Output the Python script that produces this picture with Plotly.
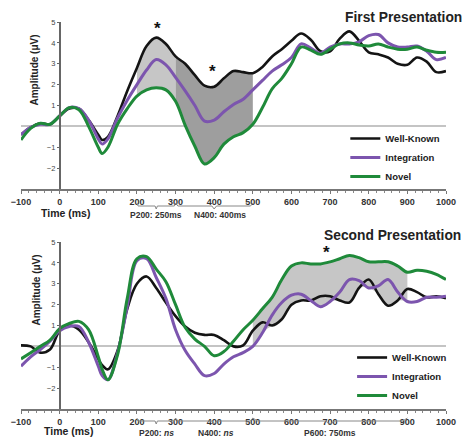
import numpy as np
import plotly.graph_objects as go

# ---------------- data ----------------
t = [-100, -75, -50, -25, 0, 25, 50, 75, 100, 110, 125, 150, 175, 200, 225, 250, 275, 300,
     325, 350, 375, 400, 425, 450, 475, 500, 525, 550, 575, 600, 625, 650, 675, 700, 725,
     750, 775, 800, 825, 850, 875, 900, 925, 950, 975, 1000]

# First presentation
wk1 = [-0.4, -0.05, 0.15, 0.1, 0.5, 0.85, 0.85, 0.3, -0.4, -0.65, -0.5, 0.5, 1.7, 2.8, 3.85, 4.25, 3.95, 3.35,
       3.0, 2.45, 1.95, 1.9, 2.3, 2.65, 2.6, 2.55, 2.85, 3.35, 3.7, 4.1, 4.45, 4.15, 3.6, 3.6, 4.2,
       4.55, 4.1, 3.55, 3.45, 3.3, 3.0, 2.95, 3.3, 3.1, 2.6, 2.65]
int1 = [-0.4, -0.05, 0.1, 0.1, 0.5, 0.9, 0.85, 0.3, -0.6, -0.85, -0.6, 0.4, 1.25, 2.0, 2.7, 3.2, 2.95, 2.35,
        1.7, 1.0, 0.25, 0.3, 0.7, 1.05, 1.3, 1.75, 2.2, 2.65, 2.95, 3.3, 3.95, 3.75, 3.5, 3.8, 3.95,
        3.95, 4.05, 4.35, 4.4, 4.0, 3.8, 3.8, 3.85, 3.6, 3.2, 3.3]
nov1 = [-0.65, -0.1, 0.15, 0.1, 0.5, 0.9, 0.8, 0.0, -1.0, -1.3, -1.0, 0.1, 0.85, 1.45, 1.75, 1.85, 1.75, 1.2,
        0.05, -0.95, -1.8, -1.5, -0.85, -0.5, -0.3, 0.1, 0.9, 1.8, 2.3, 3.0, 3.8, 3.65, 3.45, 3.7, 3.95,
        4.0, 3.9, 3.85, 3.95, 3.8, 3.7, 3.7, 3.8, 3.65, 3.55, 3.55]

# Second presentation
wk2 = [0.05, 0.0, -0.3, -0.15, 0.75, 1.0, 0.8, 0.2, -0.6, -0.9, -1.1, -0.2, 1.8, 3.0, 3.35, 2.8, 2.1, 1.45,
       0.95, 0.65, 0.55, 0.55, 0.3, 0.0, 0.05, 0.75, 1.15, 1.0, 1.3, 2.0, 2.2, 2.2, 2.4, 2.4, 2.2,
       2.1, 2.8, 3.2, 2.5, 1.95, 2.2, 2.75, 2.6, 2.35, 2.4, 2.3]
int2 = [-0.95, -0.5, -0.15, 0.25, 0.75, 0.95, 0.95, 0.2, -0.95, -1.4, -1.6, -0.3, 1.9, 4.1, 4.2, 3.3, 2.3, 0.8,
        -0.2, -0.85, -1.4, -1.3, -0.85, -0.5, -0.3, 0.0, 0.65, 1.5, 2.1, 2.45, 2.5, 2.2, 1.9, 2.15, 2.6,
        3.2, 3.15, 2.8, 2.9, 3.2, 2.6, 2.15, 2.15, 2.35, 2.35, 2.4]
nov2 = [-0.6, -0.3, 0.0, 0.3, 0.85, 1.1, 1.2, 0.8, -0.5, -1.1, -1.6, -0.4, 2.3, 4.2, 4.3, 3.7, 3.1, 2.0,
        0.9, 0.35, 0.0, -0.45, -0.25, 0.25, 0.8, 1.25, 1.8, 2.35, 3.2, 3.85, 4.0, 3.95, 3.95, 4.05, 4.2,
        4.35, 4.25, 4.05, 4.05, 4.05, 3.85, 3.55, 3.65, 3.6, 3.45, 3.2]

x_ticks = [-100, 0, 100, 200, 300, 400, 500, 600, 700, 800, 900, 1000]
y_ticks = [-2, -1, 1, 2, 3, 4, 5]

windows1 = [(200, 300, 250, "P200: 250ms"), (300, 500, 415, "N400: 400ms")]
windows2 = [(200, 300, 250, "P200: <i>ns</i>"), (300, 500, 405, "N400: <i>ns</i>"), (500, 900, 700, "P600: 750ms")]
stars1 = [(252, 4.7), (395, 2.65)]
stars2 = [(690, 4.5)]

names = ["Well-Known", "Integration", "Novel"]
colors = ["#141414", "#7C55AE", "#1F8A3A"]
widths = [2.6, 3.0, 3.0]

# ---------------- layout helpers ----------------
W, H = 467, 441
ML, MR, MT, MB = 17, 11, 22, 32
PW, PH = W - ML - MR, H - MT - MB


def py(p):
    return (H - MB - p) / PH


def px(p):
    return (p - ML) / PW


FONT = "Liberation Sans"
T = np.array(t)

fig = go.Figure()


def sub(arr, a, b):
    arr = np.array(arr)
    m = (T >= a) & (T <= b)
    return T[m], arr[m]


def add_fill(lower, upper, a, b, color, xa, ya):
    xl, yl = sub(lower, a, b)
    xu, yu = sub(upper, a, b)
    fig.add_trace(go.Scatter(x=xl, y=yl, mode="lines", line=dict(width=0, shape="spline"),
                             showlegend=False, hoverinfo="skip", xaxis=xa, yaxis=ya))
    fig.add_trace(go.Scatter(x=xu, y=yu, mode="lines", line=dict(width=0, shape="spline"),
                             fill="tonexty", fillcolor=color, showlegend=False, hoverinfo="skip",
                             xaxis=xa, yaxis=ya))


# fills - top
add_fill(nov1, wk1, 200, 300, "#c6c6c6", "x", "y")
add_fill(nov1, wk1, 300, 500, "#9e9e9e", "x", "y")
# fills - bottom
lower2 = np.minimum(np.array(wk2), np.array(int2))
add_fill(lower2, nov2, 500, 900, "#c6c6c6", "x2", "y2")

# lines
for series, leg, xa, ya in [((wk1, int1, nov1), "legend", "x", "y"), ((wk2, int2, nov2), "legend2", "x2", "y2")]:
    for s, n, c, w in zip(series, names, colors, widths):
        fig.add_trace(go.Scatter(x=t, y=s, mode="lines", name=n,
                                 line=dict(color=c, width=w, shape="spline"),
                                 legend=leg, xaxis=xa, yaxis=ya))

top_dom = [py(189), 1.0]
bot_dom = [0.0, py(242)]

xax = dict(range=[-100, 1000], tickvals=x_ticks, showline=True, linecolor="#777", linewidth=1.5,
           ticks="outside", ticklen=3, tickcolor="#777", showgrid=False, zeroline=False,
           tickfont=dict(family=FONT, size=9, color="#333", weight="bold"),
           minor=dict(dtick=20, ticks="outside", ticklen=2, tickcolor="#888"))
yax = dict(range=[-3, 5], tickvals=y_ticks, showline=True, linecolor="#666", linewidth=1.5,
           ticks="outside", ticklen=2, tickcolor="#666", showgrid=False, zeroline=True,
           zerolinecolor="#c4c4c4", zerolinewidth=2, anchor="free", position=100 / 1100,
           tickfont=dict(family=FONT, size=7.5, color="#444"))

legfont = dict(family=FONT, size=9.5, color="#222", weight="bold")
fig.update_layout(
    width=W, height=H, margin=dict(l=ML, r=MR, t=MT, b=MB),
    paper_bgcolor="white", plot_bgcolor="white",
    xaxis=dict(**xax, anchor="y", domain=[0, 1]),
    yaxis=dict(**yax, domain=top_dom),
    xaxis2=dict(**xax, anchor="y2", domain=[0, 1]),
    yaxis2=dict(**yax, domain=bot_dom),
    legend=dict(x=px(352), y=py(124), xanchor="left", yanchor="top", bgcolor="rgba(0,0,0,0)",
                font=legfont, tracegroupgap=0, traceorder="normal"),
    legend2=dict(x=px(359), y=py(343), xanchor="left", yanchor="top", bgcolor="rgba(0,0,0,0)",
                 font=legfont, tracegroupgap=0, traceorder="normal"),
    showlegend=True,
)

ann = []
shapes = []


def txt(x, y, s, size, xref="paper", yref="paper", bold=True, angle=0, color="#111", xanchor="center"):
    ann.append(dict(x=x, y=y, xref=xref, yref=yref, text=s, showarrow=False, textangle=angle,
                    xanchor=xanchor, yanchor="middle",
                    font=dict(family=FONT, size=size, color=color, weight="bold" if bold else "normal")))


# titles
txt(px(350), py(17), "First Presentation", 13.8, xanchor="left", color="#222")
txt(px(328), py(236), "Second Presentation", 13.8, xanchor="left", color="#222")
# axis titles
txt(px(30), py(70), "Amplitude (μV)", 10, angle=-90, color="#222")
txt(px(32), py(290), "Amplitude (μV)", 10, angle=-90, color="#222")
txt(px(63), py(213), "Time (ms)", 10.5, color="#222")
txt(px(66), py(431), "Time (ms)", 10.5, color="#222")
# stars
for sx, sy in stars1:
    txt(sx, sy, "*", 17, xref="x", yref="y")
for sx, sy in stars2:
    txt(sx, sy, "*", 17, xref="x2", yref="y2")


def brackets(windows, xref, yb, ylab):
    for a, b, c, label in windows:
        m = (a + b) / 2
        yb_p, yup, ydn = py(yb), py(yb - 3), py(yb + 3)
        d = (b - a) * 0.03
        path = (f"M{a},{yup} L{a + d},{yb_p} L{m - d},{yb_p} L{m},{ydn} "
                f"L{m + d},{yb_p} L{b - d},{yb_p} L{b},{yup}")
        shapes.append(dict(type="path", path=path, xref=xref, yref="paper",
                           line=dict(color="#888", width=1)))
        txt(c, py(ylab), label, 8.5, xref=xref, color="#333")


brackets(windows1, "x", 206, 215)
brackets(windows2, "x2", 421, 433)

fig.update_layout(annotations=ann, shapes=shapes)
fig.write_html("out.html", config={"displayModeBar": False},
               post_script="document.body.style.margin='0px';")
